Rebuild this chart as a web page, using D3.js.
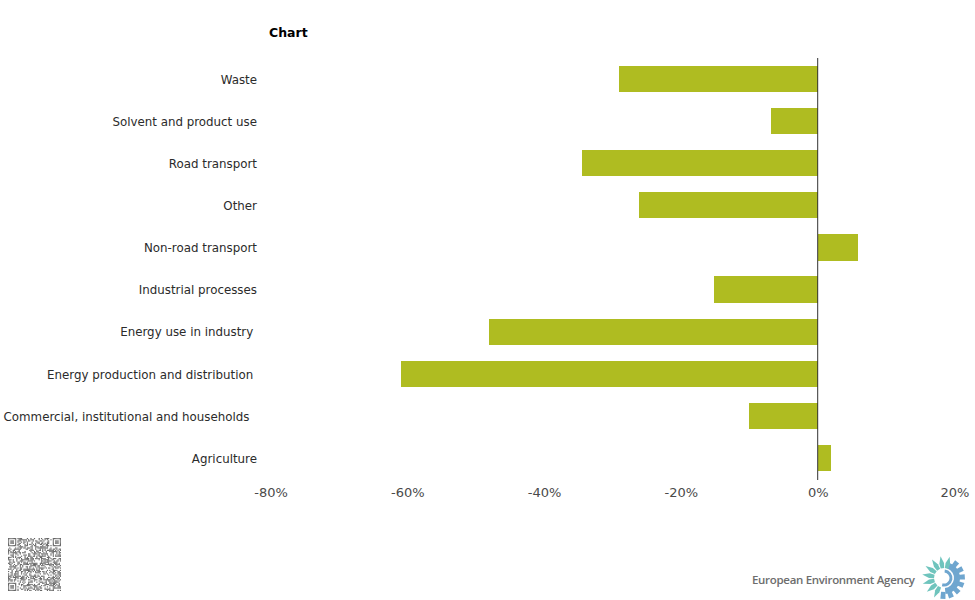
<!DOCTYPE html>
<html>
<head>
<meta charset="utf-8">
<script src="https://cdn.jsdelivr.net/npm/d3@7"></script>
<style>
  html, body { margin: 0; padding: 0; background: #fff; }
  svg, svg text { font-family: "DejaVu Sans", sans-serif; }
  svg { display: block; }
  .cat text { white-space: pre; font-size: 11.85px; fill: #2b2b2b; }
  .val text { font-size: 13px; fill: #4a4a4a; }
</style>
</head>
<body>
<div id="chart"></div>
<script>
// trailing spaces are in the source labels, they push the text left
var categories = ["Waste", "Solvent and product use", "Road transport", "Other", "Non-road transport",
  "Industrial processes", "Energy use in industry ", "Energy production and distribution ",
  "Commercial, institutional and households  ", "Agriculture"];
var values = [-29, -6.8, -34.4, -26.1, 5.9, -15.1, -48, -60.9, -10, 1.9];
var xTicks = [-80, -60, -40, -20, 0, 20];

var svg = d3.select("#chart").append("svg")
  .attr("width", 975)
  .attr("height", 600);

var x = d3.scaleLinear().domain([-80, 20]).range([270.5, 954.5]);
var y = d3.scaleBand().domain(categories).range([58, 479]).paddingInner(0.38).paddingOuter(0.19);

svg.append("text")
  .attr("x", 269).attr("y", 37)
  .attr("font-size", 12.5).attr("font-weight", "bold").attr("fill", "#000")
  .text("Chart");

svg.selectAll("rect.bar")
  .data(values)
  .enter()
  .append("rect")
  .attr("class", "bar")
  .attr("x", d => x(Math.min(d, 0)))
  .attr("width", d => Math.abs(x(d) - x(0)))
  .attr("y", (d, i) => y(categories[i]))
  .attr("height", y.bandwidth())
  .attr("fill", "#afbc21")
  .attr("shape-rendering", "crispEdges");

svg.append("line")
  .attr("x1", x(0)).attr("x2", x(0))
  .attr("y1", 58).attr("y2", 480)
  .attr("stroke", "#333").attr("stroke-width", 1);

var catAxis = svg.append("g").attr("class", "cat")
  .attr("transform", "translate(257,1)")
  .call(d3.axisLeft(y).tickSize(0).tickPadding(0));
catAxis.select(".domain").remove();

var valAxis = svg.append("g").attr("class", "val")
  .attr("transform", "translate(0,488)")
  .call(d3.axisBottom(x).tickValues(xTicks).tickSize(0).tickPadding(0).tickFormat(d => d + "%"));
valAxis.select(".domain").remove();

// QR stamp, module pattern is only approximate
var qrSize = 45, qrCell = 53 / 45;
var qr = svg.append("g").attr("transform", "translate(8,538)");
var seed = 2463534242;
function inFinder(c, r) {
  return (c < 8 && r < 8) || (c >= qrSize - 8 && r < 8) || (c < 8 && r >= qrSize - 8);
}
function finder(c, r) {
  var cx = c < 8 ? c : c - (qrSize - 7), cy = r < 8 ? r : r - (qrSize - 7);
  if (cx < 0 || cy < 0 || cx > 6 || cy > 6) return false;
  var ring = cx === 0 || cx === 6 || cy === 0 || cy === 6;
  var core = cx >= 2 && cx <= 4 && cy >= 2 && cy <= 4;
  return ring || core;
}
for (var r = 0; r < qrSize; r++) {
  for (var c = 0; c < qrSize; c++) {
    seed ^= seed << 13; seed ^= seed >>> 17; seed ^= seed << 5;
    var on = inFinder(c, r) ? finder(c, r) : (seed & 1) === 1;
    if (on) {
      qr.append("rect")
        .attr("x", c * qrCell).attr("y", r * qrCell)
        .attr("width", qrCell).attr("height", qrCell)
        .attr("fill", "#666");
    }
  }
}

// EEA logo
svg.append("text")
  .attr("x", 752).attr("y", 584)
  .style("font-family", "'Open Sans', sans-serif")
  .attr("font-size", 11.5).attr("font-weight", 600).attr("fill", "#6d6d6d")
  .attr("textLength", 163)
  .text("European Environment Agency");

var logo = svg.append("g").attr("transform", "translate(944,578)");
var blue = "#6fa6cf", tealColor = "#6fc4bd";
// blue ring under the gear teeth, the angles are from the top going clockwise
logo.append("path")
  .attr("d", d3.arc()({innerRadius: 10, outerRadius: 16, startAngle: 0.35, endAngle: 3.05}))
  .attr("fill", blue);
d3.range(15).forEach(function(i) {
  var a = -75 - i * 24;   // counterclockwise from the top right, degrees
  var teal = i < 8;
  var pts = teal ? [[a - 10, 10], [a - 9, 15], [a, 22], [a + 9, 15], [a + 10, 10]]
    : [[a - 9, 14], [a - 7, 21], [a + 7, 21], [a + 9, 14]];
  var p = pts.map(function(q) {
    var t = q[0] * Math.PI / 180;
    return [q[1] * Math.cos(t), q[1] * Math.sin(t)];
  });
  logo.append("path")
    .attr("d", d3.line()(p) + "Z")
    .attr("fill", teal ? tealColor : blue);
});
logo.append("path")
  .attr("d", d3.arc()({innerRadius: 5.5, outerRadius: 8.5, startAngle: 0.1, endAngle: 3.4}))
  .attr("fill", blue);
</script>
</body>
</html>
